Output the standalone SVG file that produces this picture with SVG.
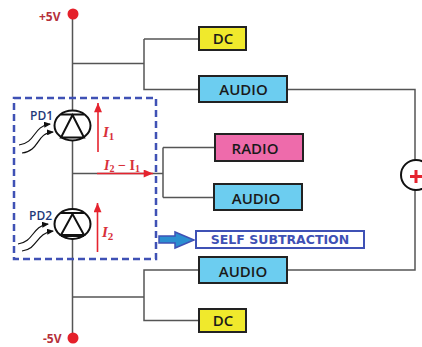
<svg xmlns="http://www.w3.org/2000/svg" width="422" height="347" viewBox="0 0 422 347">
<defs>
<marker id="red" markerWidth="10" markerHeight="8" refX="7" refY="3" orient="auto" markerUnits="userSpaceOnUse" viewBox="0 0 7 6"><path d="M0 0L7 3L0 6Z" fill="#e5232e"/></marker>
<marker id="blk" markerWidth="7" markerHeight="6" refX="6" refY="3" orient="auto" markerUnits="userSpaceOnUse" viewBox="0 0 7 6"><path d="M0 0L7 3L0 6Z" fill="#111"/></marker>
</defs>
<style>
.w{fill:none;stroke:#555;stroke-width:1.5}
.box{stroke:#222;stroke-width:2}
.t{font-family:"Open Sans","Liberation Sans",sans-serif;font-weight:600;font-size:15px;fill:#1a1a1a;text-anchor:middle}
.pd{font-family:"Open Sans","Liberation Sans",sans-serif;font-weight:600;font-size:12px;fill:#1f3a7a}
.v{font-family:"Open Sans","Liberation Sans",sans-serif;font-weight:700;font-size:12px;fill:#b5303a}
.m{font-family:"Liberation Serif",serif;font-weight:700;fill:#d8303a}
.i{stroke:#e5232e;stroke-width:1.6;fill:none;marker-end:url(#red)}
.c{fill:none;stroke:#111;stroke-width:2}
.l{fill:none;stroke:#111;stroke-width:1.2;marker-end:url(#blk)}
</style>
<g id="connectors">
<path class="w" d="M72.500 14V338M72 63.500H144M144 39H199M144 39V89.500H199M287 89.500H415V160M415 190V270H287M199 270H144V320.500H199M72 297H144M72 173.500H163M163 147.500V197.500M163 147.500H215M163 197.500H214"/>
<path class="i" d="M98 152V103"/>
<path class="i" d="M97.500 252V203"/>
<path class="i" d="M97 173.500H153"/>
<path class="l" d="M19 145C36 143 33 126 50 124"/>
<path class="l" d="M22 153C40 151 36 133 53 132"/>
<path class="l" d="M18 244C34 242 32 226 48 224"/>
<path class="l" d="M22 251C38 249 36 233 53 231"/>
</g>
<g id="self-subtraction-region">
<rect x="14" y="98" width="142" height="161" fill="none" stroke="#3f51b5" stroke-width="2.500" stroke-dasharray="7 4"/>
<path d="M159 236H175V232L194 240L175 248V243H159Z" fill="#2b8fd0" stroke="#3f51b5" stroke-width="1.500"/>
</g>
<g id="supply-plus"><circle cx="73" cy="14" r="5.500" fill="#e5202a"/><text class="v" x="39" y="21">+5V</text></g>
<g id="supply-minus"><circle cx="73" cy="338" r="5.500" fill="#e5202a"/><text class="v" x="43" y="343">-5V</text></g>
<g id="pd1"><ellipse class="c" cx="72.500" cy="125.500" rx="18" ry="15" fill="#fff" style="fill:#fff"/><path class="c" d="M61 114.500H84M61 137.500H84M72.500 115L61 137.500H84Z"/><text class="pd" x="30" y="120">PD1</text></g>
<g id="pd2"><ellipse class="c" cx="72.500" cy="224" rx="18" ry="15" style="fill:#fff"/><path class="c" d="M61 213H84M61 236H84M72.500 214L61 235H84Z"/><text class="pd" x="29" y="220">PD2</text></g>
<g id="label-i1"><text class="m" x="103" y="137" font-size="15" font-style="italic">I<tspan font-size="11" font-style="normal" dy="3">1</tspan></text></g>
<g id="label-i2"><text class="m" x="102" y="237" font-size="15" font-style="italic">I<tspan font-size="11" font-style="normal" dy="3">2</tspan></text></g>
<g id="label-i2-i1"><text class="m" x="104" y="170" font-size="14"><tspan font-style="italic">I</tspan><tspan font-size="10" dy="2">2</tspan><tspan dy="-2"> − I</tspan><tspan font-size="10" dy="2">1</tspan></text></g>
<g id="dc-top"><rect class="box" x="199" y="27" width="47" height="23" fill="#f0e92c"/><text class="t" x="223" y="44">DC</text></g>
<g id="audio-top"><rect class="box" x="199" y="76" width="88" height="26" fill="#6ccdf0"/><text class="t" x="243.500" y="95">AUDIO</text></g>
<g id="radio"><rect class="box" x="215" y="134" width="88" height="27" fill="#ee6bab"/><text class="t" x="255" y="154">RADIO</text></g>
<g id="audio-mid"><rect class="box" x="214" y="184" width="88" height="26" fill="#6ccdf0"/><text class="t" x="256" y="204">AUDIO</text></g>
<g id="self-subtraction"><rect x="196" y="231" width="168" height="17" fill="#fff" stroke="#3f51b5" stroke-width="2"/><text x="280" y="244" text-anchor="middle" font-family="'DejaVu Sans',sans-serif" font-weight="700" font-size="12.500" fill="#3f51b5">SELF SUBTRACTION</text></g>
<g id="audio-low"><rect class="box" x="199" y="257" width="88" height="26" fill="#6ccdf0"/><text class="t" x="243" y="277">AUDIO</text></g>
<g id="dc-low"><rect class="box" x="199" y="309" width="47" height="23" fill="#f0e92c"/><text class="t" x="223" y="326">DC</text></g>
<g id="adder"><circle cx="416" cy="175" r="15" fill="#fff" stroke="#111" stroke-width="2"/><path d="M410 176.500H422M416 170V183" stroke="#e5232e" stroke-width="3" fill="none"/></g>
</svg>
